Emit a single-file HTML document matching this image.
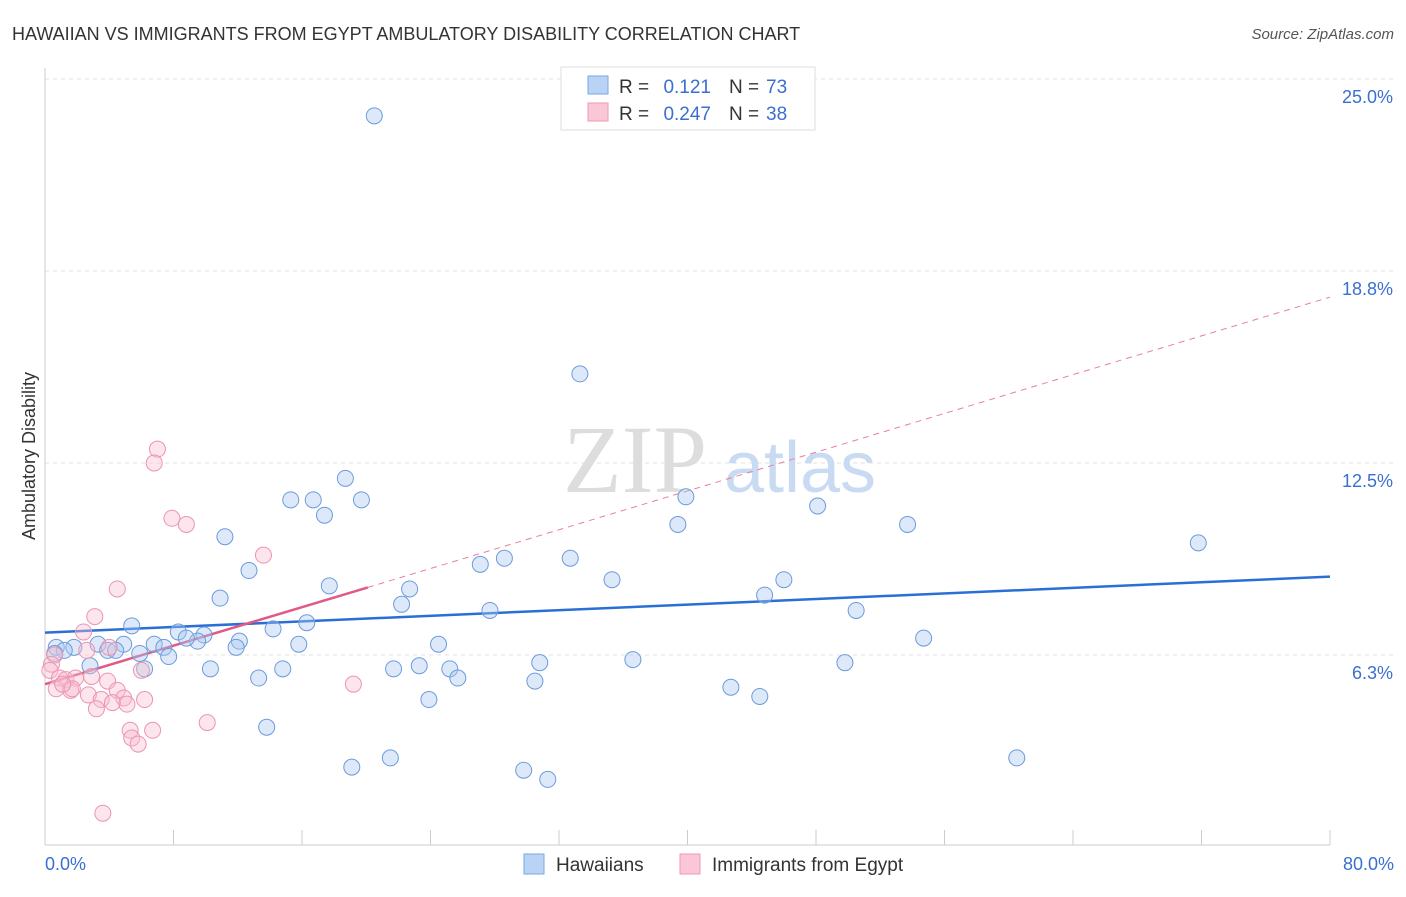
<!DOCTYPE html>
<html><head><meta charset="utf-8"><style>
body{margin:0;background:#fff;font-family:"Liberation Sans",sans-serif;}
</style></head><body>
<svg width="1406" height="892" viewBox="0 0 1406 892" xmlns="http://www.w3.org/2000/svg">
<text x="12" y="40" font-size="18" fill="#333">HAWAIIAN VS IMMIGRANTS FROM EGYPT AMBULATORY DISABILITY CORRELATION CHART</text>
<text x="1394" y="39" font-size="15" fill="#555" text-anchor="end" font-style="italic">Source: ZipAtlas.com</text>
<g id="grid"></g>
<g><text x="635" y="492" font-size="96" fill="#ddd" font-family="Liberation Serif,serif" text-anchor="middle">ZIP</text><text x="800" y="492" font-size="72" fill="#c9dbf2" text-anchor="middle">atlas</text></g>
<line x1="45" y1="68" x2="45" y2="845" stroke="#ccc"/>
<line x1="45" y1="845" x2="1330" y2="845" stroke="#ccc"/>
<text x="35" y="456" font-size="18" fill="#333" text-anchor="middle" transform="rotate(-90 35 456)">Ambulatory Disability</text>
<text x="45" y="870" font-size="18" fill="#3a6fd1" text-anchor="start">0.0%</text>
<text x="1394" y="870" font-size="18" fill="#3a6fd1" text-anchor="end">80.0%</text>
<g id="ticks"></g>
<g id="lines"></g>
<g id="pts"></g>
<g>
<rect x="561" y="67" width="254" height="63" fill="#fff" stroke="#ddd"/>
<rect x="588" y="76" width="20" height="18" fill="#b9d3f5" stroke="#7aa6e6"/>
<rect x="588" y="103" width="20" height="18" fill="#fbc7d6" stroke="#ef9ab5"/>
<text x="619" y="93" font-size="19" fill="#333">R =</text>
<text x="711" y="93" font-size="19" fill="#3a6fd1" text-anchor="end">0.121</text>
<text x="729" y="93" font-size="19" fill="#333">N =</text>
<text x="766" y="93" font-size="19" fill="#3a6fd1">73</text>
<text x="619" y="120" font-size="19" fill="#333">R =</text>
<text x="711" y="120" font-size="19" fill="#3a6fd1" text-anchor="end">0.247</text>
<text x="729" y="120" font-size="19" fill="#333">N =</text>
<text x="766" y="120" font-size="19" fill="#3a6fd1">38</text>
</g>
<g>
<rect x="524" y="854" width="20" height="20" fill="#b9d3f5" stroke="#7aa6e6"/>
<text x="556" y="871" font-size="19" fill="#333">Hawaiians</text>
<rect x="680" y="854" width="20" height="20" fill="#fbc7d6" stroke="#ef9ab5"/>
<text x="712" y="871" font-size="19" fill="#333">Immigrants from Egypt</text>
</g>
</svg>
<script>
const yTicks=[25,18.75,12.5,6.25];
const yTickLabels=["25.0%","18.8%","12.5%","6.3%"];
const xTicks=[0,8,16,24,32,40,48,56,64,72,80];
const hawX=[20.5,33.3,18.7,15.3,16.7,19.7,17.4,39.9,39.4,48.1,53.7,71.8,11.2,12.7,27.1,28.6,32.7,35.3,46.0,17.7,22.7,10.9,22.2,27.7,44.8,50.5,5.4,16.3,14.2,8.3,9.9,12.1,9.5,8.8,4.9,3.3,1.8,0.7,1.2,0.6,3.9,4.4,6.8,7.4,5.9,7.7,11.9,15.8,24.5,54.7,2.8,6.2,10.3,14.8,21.7,23.3,25.2,25.7,30.8,36.6,49.8,13.3,30.5,42.7,44.5,23.9,13.8,21.5,19.1,29.8,31.3,60.5];
const hawY=[23.8,15.4,12.0,11.3,11.3,11.3,10.8,11.4,10.5,11.1,10.5,9.9,10.1,9.0,9.2,9.4,9.4,8.7,8.7,8.5,8.4,8.1,7.9,7.7,8.2,7.7,7.2,7.3,7.1,7.0,6.9,6.7,6.7,6.8,6.6,6.6,6.5,6.5,6.4,6.3,6.4,6.4,6.6,6.5,6.3,6.2,6.5,6.6,6.6,6.8,5.9,5.8,5.8,5.8,5.8,5.9,5.8,5.5,6.0,6.1,6.0,5.5,5.4,5.2,4.9,4.8,3.9,2.9,2.6,2.5,2.2,2.9];
const egyX=[7.0,6.8,7.9,8.8,13.6,4.5,3.1,2.4,4.0,2.6,0.6,0.4,0.3,0.9,1.3,1.9,2.9,0.7,1.6,3.9,2.7,4.5,4.9,3.5,4.2,6.2,5.1,6.0,3.2,19.2,10.1,5.3,6.7,5.4,5.8,3.6,1.7,1.1];
const egyY=[12.95,12.5,10.7,10.5,9.5,8.4,7.5,7.0,6.5,6.4,6.25,5.95,5.75,5.5,5.45,5.5,5.55,5.15,5.1,5.4,4.95,5.1,4.85,4.8,4.7,4.8,4.65,5.75,4.5,5.3,4.05,3.8,3.8,3.55,3.35,1.1,5.15,5.3];
const hawTrend=[[0,6.98],[80,8.8]];
const egyTrend=[[0,5.3],[20.1,8.45],[80,17.9]];
const X=v=>45+v/80*1285, Y=v=>847-v*30.72;
const NS="http://www.w3.org/2000/svg";
function mk(t,a,p){const e=document.createElementNS(NS,t);for(const k in a)e.setAttribute(k,a[k]);document.getElementById(p).appendChild(e);return e;}
yTicks.forEach((t,i)=>{
 const l=mk('line',{x1:45,x2:1394,y1:Y(t),y2:Y(t),stroke:'#e2e2e2','stroke-dasharray':'4,4'},'grid');
 
 
 const tx=mk('text',{x:1393,y:Y(t)+24,'font-size':18,fill:'#3a6fd1','text-anchor':'end'},'grid');
 tx.textContent=yTickLabels[i];
 
 
});
xTicks.forEach(t=>{
 const l=mk('line',{x1:X(t),x2:X(t),y1:830,y2:845,stroke:'#ccc'},'ticks');
 
 
});
let l=mk('line',{x1:X(hawTrend[0][0]),y1:Y(hawTrend[0][1]),x2:X(hawTrend[1][0]),y2:Y(hawTrend[1][1]),stroke:'#2a6fd6','stroke-width':2.5},'lines');


l=mk('line',{x1:X(egyTrend[1][0]),y1:Y(egyTrend[1][1]),x2:X(egyTrend[2][0]),y2:Y(egyTrend[2][1]),stroke:'#e87ea0','stroke-width':1,'stroke-dasharray':'6,5'},'lines');


l=mk('line',{x1:X(egyTrend[0][0]),y1:Y(egyTrend[0][1]),x2:X(egyTrend[1][0]),y2:Y(egyTrend[1][1]),stroke:'#e05a88','stroke-width':2.5},'lines');


hawX.forEach((v,i)=>{
 const c=mk('circle',{cx:X(v),cy:Y(hawY[i]),r:8,fill:'rgba(170,200,240,0.4)',stroke:'#6b9bdc','stroke-width':1},'pts');
 
 
});
egyX.forEach((v,i)=>{
 const c=mk('circle',{cx:X(v),cy:Y(egyY[i]),r:8,fill:'rgba(248,190,208,0.4)',stroke:'#ec94b2','stroke-width':1},'pts');
 
 
});
</script>
</body></html>
